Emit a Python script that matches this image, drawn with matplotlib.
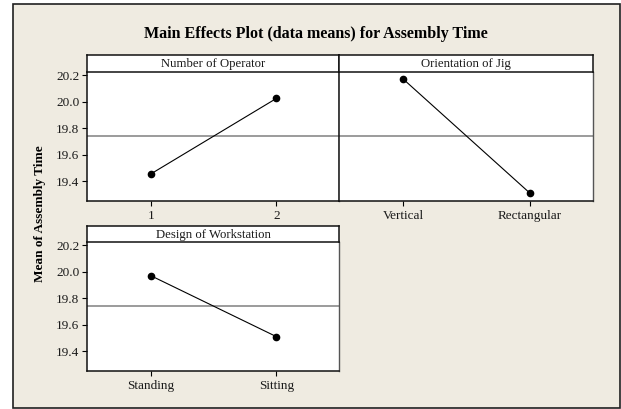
import numpy as np
import matplotlib
matplotlib.use("Agg")
import matplotlib.pyplot as plt
from matplotlib.patches import Rectangle

# ---------------- data (means) ----------------
factors = ["Number of Operator", "Orientation of Jig", "Design of Workstation"]
levels_operator = ["1", "2"]
means_operator = [19.455, 20.025]
levels_jig = ["Vertical", "Rectangular"]
means_jig = [20.17, 19.31]
levels_station = ["Standing", "Sitting"]
means_station = [19.97, 19.51]
grand_mean = np.mean(means_operator)
y_ticks = [19.4, 19.6, 19.8, 20.0, 20.2]

plt.rcParams['font.family'] = ['Liberation Serif', 'DejaVu Serif']

W, H = 621, 409
fig = plt.figure(figsize=(W / 100, H / 100), dpi=100)
fig.patch.set_facecolor('white')

# beige frame, kept behind the axes
fig.patches.append(Rectangle((13 / W, 1 - 408 / H), 607 / W, 404 / H,
                             transform=fig.transFigure, facecolor='#efebe1',
                             edgecolor='#202020', linewidth=1.2, zorder=-10))


def px_box(x0, y0, x1, y1):
    return [x0 / W, 1 - y1 / H, (x1 - x0) / W, (y1 - y0) / H]


panels = [
    (px_box(87, 72, 339, 201), px_box(87, 55, 339, 72), factors[0], levels_operator, means_operator, True),
    (px_box(339, 72, 593, 201), px_box(339, 55, 593, 72), factors[1], levels_jig, means_jig, False),
    (px_box(87, 242, 339, 371), px_box(87, 226, 339, 242), factors[2], levels_station, means_station, True),
]

for box, sbox, name, levels, means, show_y in panels:
    ax = fig.add_axes(box)
    ax.set_facecolor('white')
    x = np.arange(1, len(levels) + 1)
    ax.axhline(grand_mean, color='#808080', linewidth=1.1, zorder=1)
    ax.plot(x, means, color='black', linewidth=0.8, marker='o',
            markersize=4.5, zorder=3)
    ax.set_xlim(0.49, 2.5)
    ax.set_ylim(19.25, 20.225)
    ax.set_xticks(x)
    ax.set_xticklabels(levels, fontsize=9.5, color='#1a1a1a')
    ax.set_yticks(y_ticks)
    if show_y:
        ax.set_yticklabels(['%.1f' % v for v in y_ticks], fontsize=9.5, color='#1a1a1a')
        ax.tick_params(axis='y', direction='out', length=3.5, width=0.8, pad=2)
    else:
        ax.tick_params(axis='y', left=False, labelleft=False)
    ax.tick_params(axis='x', direction='out', length=3.5, width=0.8, pad=3)
    ax.spines['top'].set_visible(False)
    for s in ('left', 'bottom'):
        ax.spines[s].set_color('#111111')
        ax.spines[s].set_linewidth(1.1)
    ax.spines['right'].set_color('#555555')
    ax.spines['right'].set_linewidth(1.0)

    # strip with the factor name
    sx = fig.add_axes(sbox)
    sx.set_facecolor('white')
    sx.set_xticks([])
    sx.set_yticks([])
    for s in sx.spines.values():
        s.set_color('#111111')
        s.set_linewidth(1.1)
    sx.text(0.5, 0.45, name, ha='center', va='center', fontsize=9.2,
            color='#1a1a1a', transform=sx.transAxes)

fig.text(315.5 / W, 1 - 34 / H, "Main Effects Plot (data means) for Assembly Time",
         ha='center', va='center', fontsize=11.5, fontweight='bold')
fig.text(40 / W, 1 - 214 / H, "Mean of Assembly Time", rotation=90,
         ha='center', va='center', fontsize=9.5, fontweight='bold')

fig.savefig('out.png', dpi=100)
